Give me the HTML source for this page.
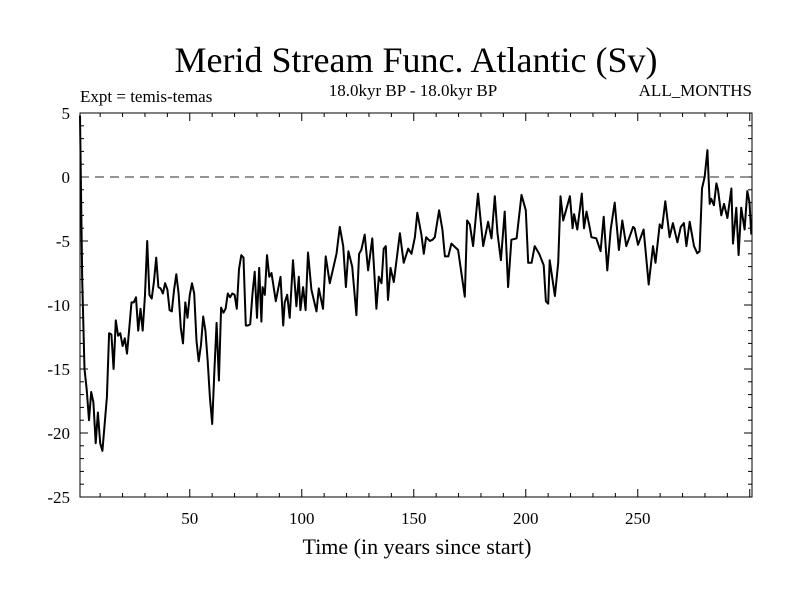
<!DOCTYPE html>
<html><head><meta charset="utf-8"><style>
body{margin:0;background:#fff;}
svg{display:block;font-family:"Liberation Serif",serif;}
</style></head><body>
<svg id="chart" width="800" height="600" viewBox="0 0 800 600">
<text x="416" y="72" font-size="36" text-anchor="middle">Merid Stream Func. Atlantic (Sv)</text>
<text x="413" y="96" font-size="17" text-anchor="middle">18.0kyr BP - 18.0kyr BP</text>
<text x="80" y="102" font-size="17">Expt = temis-temas</text>
<text x="752" y="96" font-size="17" text-anchor="end">ALL_MONTHS</text>
<text x="417" y="554" font-size="22" text-anchor="middle">Time (in years since start)</text>
<g id="axes"></g>
<line id="zero" stroke="#555" stroke-width="1.2" stroke-dasharray="9,6"/>
<path id="series" fill="none" stroke="#000" stroke-width="2" stroke-linejoin="round"/>
<rect x="80" y="113" width="672" height="384" fill="none" stroke="#000" stroke-width="1"/>
</svg>
<script>
const years=[1,2,3,4,5,6,7,8,9,10,11,13,14,15,16,17,18,19,20,21,22,23,24,25,26,27,28,29,30,31,32,33,34,35,36,37,38,39,40,41,42,43,44,45,46,47,48,49,50,51,52,53,54,55,56,57,58,59,60,61,62,63,64,65,66,67,68,69,70,71,72,73,74,75,76,77,78,79,80,81,82,82.5,83.5,84.5,85.5,86.5,88.4,90.5,91.7,92.4,93.5,94.6,96.1,97.6,98.7,99.4,100.6,101.7,102.8,104.3,106.6,107.6,109.5,110.7,112.5,115.5,117,118.5,119.7,120.8,122.5,124.4,125.6,126.6,128.1,129.6,131.5,133.3,134.4,135.6,136.6,137.5,138.5,139.6,141.1,143.8,145.5,147.5,149,150.5,151.6,153.4,154.5,155.5,157.2,158.4,159.4,161.3,162.8,163.9,165.4,166.8,169.8,172.8,173.8,175,176.5,178.7,181,183.2,184.7,186.2,187.4,188.9,190.6,192.1,193.6,195.9,198.1,200,201.1,202.6,204,206,208,209,210,210.7,213,214.5,215.5,216.7,219.7,220.9,221.6,223,225,226,227.1,228.6,229.3,231.5,233.4,234.8,236.4,237.9,239.7,241.6,243.1,244.9,247.9,248.6,250.1,252.6,254.9,256.8,257.9,259.8,260.8,262.3,264.2,265.7,267.7,269.2,270.6,271.7,273.2,275.1,276.6,277.6,278.7,279.9,281.1,282.1,282.8,284,285.1,285.8,287.3,288.5,290,291.8,292.5,294,295,296.2,297.7,298.9,299.9,300.7];
const values=[4.8,-8,-15,-16.6,-19,-16.8,-17.6,-20.8,-18.4,-20.8,-21.4,-17.2,-12.2,-12.3,-15,-11.2,-12.4,-12.2,-13.2,-12.6,-13.8,-11.8,-9.8,-9.8,-9.4,-12,-10.3,-12,-9.2,-5,-9.2,-9.5,-8.2,-6.3,-8.6,-8.7,-9.1,-8.3,-8.8,-10.4,-10.5,-8.8,-7.6,-9.1,-11.8,-13,-9.8,-11,-9.2,-8.3,-9.1,-12.8,-14.4,-13.1,-10.9,-12,-14.4,-17.2,-19.3,-15.1,-11.4,-15.9,-10.2,-10.6,-10.3,-9.1,-9.4,-9.1,-9.2,-10.3,-7.2,-6.1,-6.3,-11.6,-11.6,-11.5,-9.1,-7.4,-11,-7.1,-11.3,-8.6,-9.2,-6.1,-7.8,-7.5,-9.7,-7.8,-11.6,-9.8,-9.2,-11,-6.5,-10.1,-7.8,-10.4,-8.6,-10.4,-5.9,-8.8,-10.5,-8.7,-10.3,-6.2,-8.3,-6,-3.9,-5.4,-8.6,-5.8,-7,-10.8,-6,-5.7,-4.5,-7.3,-4.8,-10.3,-7.8,-8.3,-5.6,-5.4,-9.6,-7.1,-8.2,-4.4,-6.7,-5.6,-6,-4.7,-2.8,-4.5,-6,-4.7,-5,-4.9,-4.7,-2.6,-4.1,-6.2,-6.2,-5.2,-5.7,-9.35,-3.4,-3.7,-5.4,-1.3,-5.4,-3.5,-4.8,-1.5,-4.4,-6.5,-2.7,-8.6,-4.9,-4.8,-1.4,-2.6,-6.7,-6.7,-5.4,-6,-6.9,-9.7,-9.9,-6.5,-9.3,-6.7,-1.5,-3.4,-1.5,-4,-2.9,-4.1,-1.3,-4,-2.7,-4,-4.7,-4.8,-5.8,-3.1,-7.3,-4.1,-2,-5.7,-3.4,-5.4,-3.9,-4,-5.3,-4.1,-8.4,-5.4,-6.7,-3.7,-4,-1.9,-4.7,-3.6,-5.1,-3.9,-3.6,-5.4,-3.5,-5.4,-5.96,-5.8,-0.9,0.03,2.1,-2.1,-1.7,-2.2,-0.5,-1,-3,-2.1,-3.2,-0.9,-5.2,-2.4,-6.1,-2.4,-4.1,-1.1,-2,-4.5,-3];
const xTicksMajor=[50,100,150,200,250];
const yTicks=[5,0,-5,-10,-15,-20,-25];
const X0=80,X1=752,Y0=113,Y1=497,xMin=1,xMax=301,yMin=-25,yMax=5;
const sx=v=>X0+(v-xMin)/(xMax-xMin)*(X1-X0);
const sy=v=>Y1-(v-yMin)/(yMax-yMin)*(Y1-Y0);
const NS='http://www.w3.org/2000/svg';
const ax=document.getElementById('axes');
function mk(tag,attrs){const e=document.createElementNS(NS,tag);for(const k in attrs)e.setAttribute(k,attrs[k]);return e;}
for(let v=10;v<xMax;v+=10){
  const L=(v%50===0)?8:4,x=sx(v);
  const t1=mk('line',{x1:x,x2:x,y1:Y1,y2:Y1-L,stroke:'#000'});
  
  
  ax.appendChild(t1);
  const t2=mk('line',{x1:x,x2:x,y1:Y0,y2:Y0+L,stroke:'#000'});
  
  
  ax.appendChild(t2);
}
xTicksMajor.forEach(v=>{
  const t=mk('text',{x:sx(v),y:524,'font-size':17,'text-anchor':'middle'});
  t.textContent=v;
  
  
  ax.appendChild(t);
});
for(let v=yMin;v<=yMax;v+=1){
  const L=(v%5===0)?8:4,y=sy(v);
  const t1=mk('line',{x1:X0,x2:X0+L,y1:y,y2:y,stroke:'#000'});
  
  
  ax.appendChild(t1);
  const t2=mk('line',{x1:X1,x2:X1-L,y1:y,y2:y,stroke:'#000'});
  
  
  ax.appendChild(t2);
}
yTicks.forEach(v=>{
  const t=mk('text',{x:70,y:sy(v)+6,'font-size':17,'text-anchor':'end'});
  t.textContent=v;
  
  
  ax.appendChild(t);
});
const z=document.getElementById('zero');
z.setAttribute('x1',X0);z.setAttribute('x2',X1);z.setAttribute('y1',sy(0));z.setAttribute('y2',sy(0));
document.getElementById('series').setAttribute('d',years.map((yr,i)=>(i?'L':'M')+sx(yr).toFixed(1)+','+sy(values[i]).toFixed(1)).join(''));
</script>
</body></html>
